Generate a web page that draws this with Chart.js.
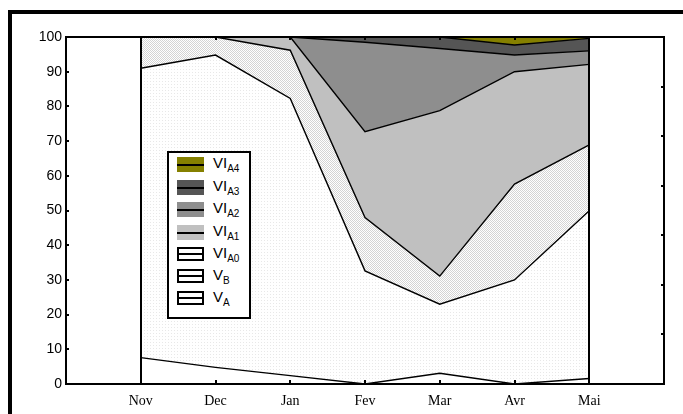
<!DOCTYPE html>
<html>
<head>
<meta charset="utf-8">
<script src="https://cdn.jsdelivr.net/npm/chart.js@4"></script>
<style>
  body { margin: 0; width: 683px; height: 414px; position: relative; overflow: hidden; background: #fff; }
  #frame { position: absolute; left: 8px; top: 10px; width: 700px; height: 420px; border-left: 4px solid #000; border-top: 4px solid #000; }
  #wrap { position: absolute; left: 0; top: 0; }
  #legend { position: absolute; left: 167px; top: 151px; width: 80px; height: 164px; border: 2px solid #000; background: #fff;
            font-family: "Liberation Sans", Arial, sans-serif; font-size: 15px; color: #000; }
  .row { position: absolute; left: 8px; height: 15px; }
  .sw { position: absolute; left: 0; top: 0; width: 27px; height: 15px; box-sizing: border-box; }
  .sw::after { content: ""; position: absolute; left: 0; right: 0; top: 50%; height: 2px; margin-top: -1px; background: #000; }
  .sw.open { border: 2px solid #000; height: 14px; }
  .lbl { position: absolute; left: 36px; top: -3px; white-space: nowrap; }
  .lbl sub { font-size: 10px; vertical-align: -4px; line-height: 0; }
</style>
</head>
<body>
<div id="frame"></div>
<div id="wrap"><canvas id="chart" width="683" height="414"></canvas></div>
<div id="legend"></div>
<script>
// months shown on the x axis (blank slot added on each side)
const months = ['Nov', 'Dec', 'Jan', 'Fev', 'Mar', 'Avr', 'Mai'];

// stacked shares (%), bottom to top
const vA   = [7.6, 4.8, 2.4, 0, 3.1, 0, 1.6];
const vB   = [83.4, 90.0, 79.9, 32.6, 19.9, 30.0, 48.3];
const viA0 = [9.0, 5.2, 13.9, 15.4, 8.1, 27.6, 19.0];
const viA1 = [0, 0, 3.8, 24.7, 47.7, 32.4, 23.2];
const viA2 = [0, 0, 0, 25.8, 17.9, 4.8, 3.9];
const viA3 = [0, 0, 0, 1.5, 3.3, 2.9, 3.6];
const viA4 = [0, 0, 0, 0, 0, 2.3, 0.4];

const seriesNames = ['V_A', 'V_B', 'VI_A0', 'VI_A1', 'VI_A2', 'VI_A3', 'VI_A4'];
const yTicks = [0, 10, 20, 30, 40, 50, 60, 70, 80, 90, 100];

// small stipple patterns like the original print
function dots(fg, step, diag) {
    const c = document.createElement('canvas');
    c.width = step; c.height = step;
    const g = c.getContext('2d');
    g.fillStyle = '#fff';
    g.fillRect(0, 0, step, step);
    g.fillStyle = fg;
    g.fillRect(0, 0, 1, 1);
    if (diag) g.fillRect(1, 1, 1, 1);
    return g.createPattern(c, 'repeat');
}

const fills = ['#ffffff', dots('#e8e8e8', 3, false), dots('#d4d4d4', 2, true), '#c0c0c0', '#8e8e8e', '#555555', '#858000'];
const legendFills = ['#fff', '#fff', '#fff', '#c0c0c0', '#8e8e8e', '#555555', '#858000'];

const labels = [''].concat(months, ['']);
const pad = arr => [null].concat(arr, [null]);

const datasets = [vA, vB, viA0, viA1, viA2, viA3, viA4].map((arr, i) => ({
    label: seriesNames[i],
    data: pad(arr),
    fill: i === 0 ? 'origin' : '-1',
    backgroundColor: fills[i],
    borderColor: '#000',
    borderWidth: 1.4,
    pointRadius: 0,
    tension: 0
}));

// frame, end lines and inward tick marks
const decor = {
    id: 'decor',
    afterDatasetsDraw(chart) {
        const { ctx, chartArea: a, scales } = chart;
        const x = scales.x, y = scales.y, y2 = scales.y2;
        ctx.save();
        ctx.strokeStyle = '#000';
        ctx.lineWidth = 2;
        [1, months.length].forEach(i => {
            const px = Math.round(x.getPixelForValue(i));
            ctx.beginPath();
            ctx.moveTo(px, y.getPixelForValue(0));
            ctx.lineTo(px, y.getPixelForValue(100));
            ctx.stroke();
        });
        ctx.strokeRect(a.left, a.top, a.right - a.left, a.bottom - a.top);
        ctx.beginPath();
        for (let i = 1; i <= months.length; i++) {
            const px = Math.round(x.getPixelForValue(i));
            ctx.moveTo(px, a.bottom); ctx.lineTo(px, a.bottom - 4);
            ctx.moveTo(px, a.top); ctx.lineTo(px, a.top + 3);
        }
        yTicks.slice(1, -1).forEach(v => {
            const py = Math.round(y.getPixelForValue(v));
            ctx.moveTo(a.left, py); ctx.lineTo(a.left + 3, py);
        });
        for (let v = 1; v < 7; v++) {
            const py = Math.round(y2.getPixelForValue(v));
            ctx.moveTo(a.right, py); ctx.lineTo(a.right - 3, py);
        }
        ctx.stroke();
        ctx.restore();
    }
};

new Chart(document.getElementById('chart'), {
    type: 'line',
    data: { labels: labels, datasets: datasets },
    options: {
        responsive: false,
        animation: false,
        devicePixelRatio: 1,
        layout: { padding: { left: 0, top: 37, right: 19, bottom: 0 } },
        plugins: { legend: { display: false }, tooltip: { enabled: false } },
        scales: {
            x: {
                grid: { display: false, drawTicks: false },
                border: { display: false },
                ticks: {
                    autoSkip: false, maxRotation: 0, padding: 9, color: '#000',
                    font: { family: '"Liberation Serif", "Times New Roman", serif', size: 14 }
                },
                afterFit(s) { s.height = 30; }
            },
            y: {
                stacked: true,
                min: 0, max: 100,
                grid: { display: false, drawTicks: false },
                border: { display: false },
                ticks: {
                    stepSize: 10, padding: 4, color: '#000',
                    font: { family: '"Liberation Sans", Arial, sans-serif', size: 14 }
                },
                afterBuildTicks(s) { s.ticks = yTicks.map(v => ({ value: v })); },
                afterFit(s) { s.width = 66; }
            },
            y2: { display: false, min: 0, max: 7, position: 'right' }
        }
    },
    plugins: [decor]
});

// legend box, top entry first
const legend = document.getElementById('legend');
const rowTops = [4, 27, 49, 72, 94, 116, 138];
seriesNames.slice().reverse().forEach((name, k) => {
    const i = seriesNames.length - 1 - k;
    const parts = name.split('_');
    const row = document.createElement('div');
    row.className = 'row';
    row.style.top = rowTops[k] + 'px';
    const sw = document.createElement('div');
    sw.className = 'sw' + (legendFills[i] === '#fff' ? ' open' : '');
    sw.style.background = legendFills[i];
    const lbl = document.createElement('div');
    lbl.className = 'lbl';
    lbl.innerHTML = parts[0] + '<sub>' + parts[1] + '</sub>';
    row.appendChild(sw);
    row.appendChild(lbl);
    legend.appendChild(row);
});
</script>
</body>
</html>
